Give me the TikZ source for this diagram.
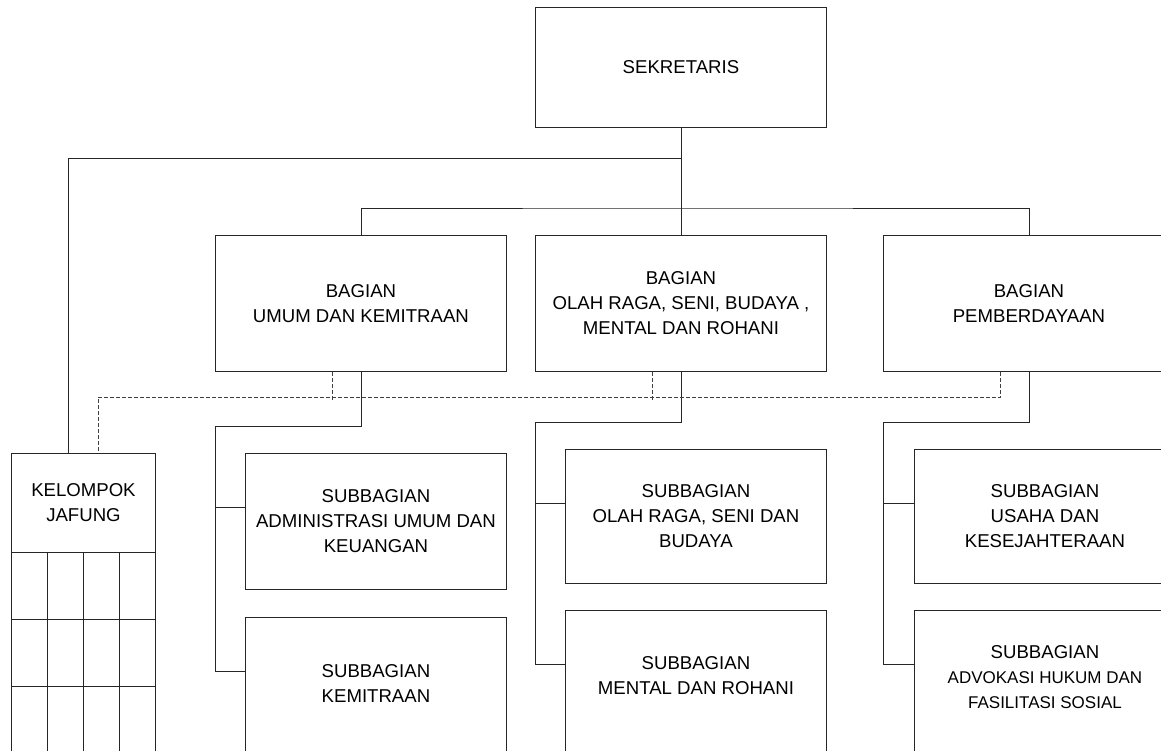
\documentclass[tikz,border=0pt]{standalone}
\usepackage{fontspec}
\setmainfont{Liberation Sans}
\newcommand\smallline{\fontsize{17}{22.5}\selectfont}
\begin{document}
\begin{tikzpicture}[x=1pt,y=-1pt,
  box/.style={draw=black!85, line width=0.9pt, rectangle, inner sep=0pt, align=center, anchor=north west, font=\fontsize{18.6}{25}\selectfont},
  txt/.style={inner sep=0pt, align=center, font=\fontsize{18.6}{25}\selectfont},
  ln/.style={draw=black!85, line width=0.9pt},
  dsh/.style={draw=black!75, line width=0.7pt, dash pattern=on 4pt off 2pt}]
\useasboundingbox (0,0) rectangle (1161,751);
\clip (0,0) rectangle (1161,751);
% boxes
\node[box, minimum width=291pt, minimum height=120pt] (sek) at (535,7) {SEKRETARIS};
\node[box, minimum width=291pt, minimum height=136pt] (b1) at (215,235) {BAGIAN\\UMUM DAN KEMITRAAN};
\node[box, minimum width=291pt, minimum height=136pt] (b2) at (535,235) {BAGIAN\\OLAH RAGA, SENI, BUDAYA ,\\MENTAL DAN ROHANI};
\node[box, minimum width=291pt, minimum height=136pt] (b3) at (883,235) {BAGIAN\\PEMBERDAYAAN};
\node[box, minimum width=261pt, minimum height=136pt] (s11) at (245,453) {SUBBAGIAN\\ADMINISTRASI UMUM DAN\\KEUANGAN};
\node[box, minimum width=261pt, minimum height=150pt] (s12) at (245,617) {};
\node[txt] (s12t) at ([yshift=-67pt]s12.north) {SUBBAGIAN\\KEMITRAAN};
\node[box, minimum width=261pt, minimum height=134pt] (s21) at (565,449) {SUBBAGIAN\\OLAH RAGA, SENI DAN\\BUDAYA};
\node[box, minimum width=261pt, minimum height=150pt] (s22) at (565,610) {};
\node[txt] (s22t) at ([yshift=-66pt]s22.north) {SUBBAGIAN\\MENTAL DAN ROHANI};
\node[box, minimum width=261pt, minimum height=134pt] (s31) at (914,449) {SUBBAGIAN\\USAHA DAN\\KESEJAHTERAAN};
\node[box, minimum width=261pt, minimum height=150pt] (s32) at (914,610) {};
\node[txt] (s32t) at ([yshift=-67pt]s32.north) {SUBBAGIAN\\\smallline ADVOKASI HUKUM DAN\\\smallline FASILITASI SOSIAL};
\node[box, minimum width=144pt, minimum height=99pt] (kel) at (11,453) {KELOMPOK\\JAFUNG};
% grid under kelompok
\foreach \x in {11,47,83,119,155} \draw[ln] (\x,552) -- (\x,770);
\foreach \y in {619,686} \draw[ln] (11,\y) -- (155,\y);
% main connectors
\coordinate (j0) at (680.5,158);
\coordinate (j1) at (680.5,208);
\draw[ln] (sek) -- (b2);
\draw[ln] (j0) -| ([xshift=57pt]kel.north west);
\draw[ln] (b1.north) |- (j1) -| (b3.north);
% sub brackets
\coordinate (c1) at (215,426);
\coordinate (c2) at (535,422);
\coordinate (c3) at (883,422);
\coordinate (s11a) at ([yshift=-54pt]s11.north west);
\coordinate (s12a) at ([yshift=-54pt]s12.north west);
\coordinate (s21a) at ([yshift=-54pt]s21.north west);
\coordinate (s22a) at ([yshift=-54pt]s22.north west);
\coordinate (s31a) at ([yshift=-54pt]s31.north west);
\coordinate (s32a) at ([yshift=-54pt]s32.north west);
\draw[ln] (b1.south) |- (c1) |- (s12a);
\draw[ln] (c1 |- s11a) -- (s11a);
\draw[ln] (b2.south) |- (c2) |- (s22a);
\draw[ln] (c2 |- s21a) -- (s21a);
\draw[ln] (b3.south) |- (c3) |- (s32a);
\draw[ln] (c3 |- s31a) -- (s31a);
% dashed coordination lines
\coordinate (dj) at (98,397);
\draw[dsh] ([xshift=-28.5pt]b3.south) |- (dj) -- (dj |- kel.north);
\draw[dsh] ([xshift=-28.5pt]b1.south) -- ([xshift=-28.5pt,yshift=-3pt]b1.south |- dj);
\draw[dsh] ([xshift=-28.5pt]b2.south) -- ([xshift=-28.5pt,yshift=-3pt]b2.south |- dj);
\end{tikzpicture}
\end{document}
